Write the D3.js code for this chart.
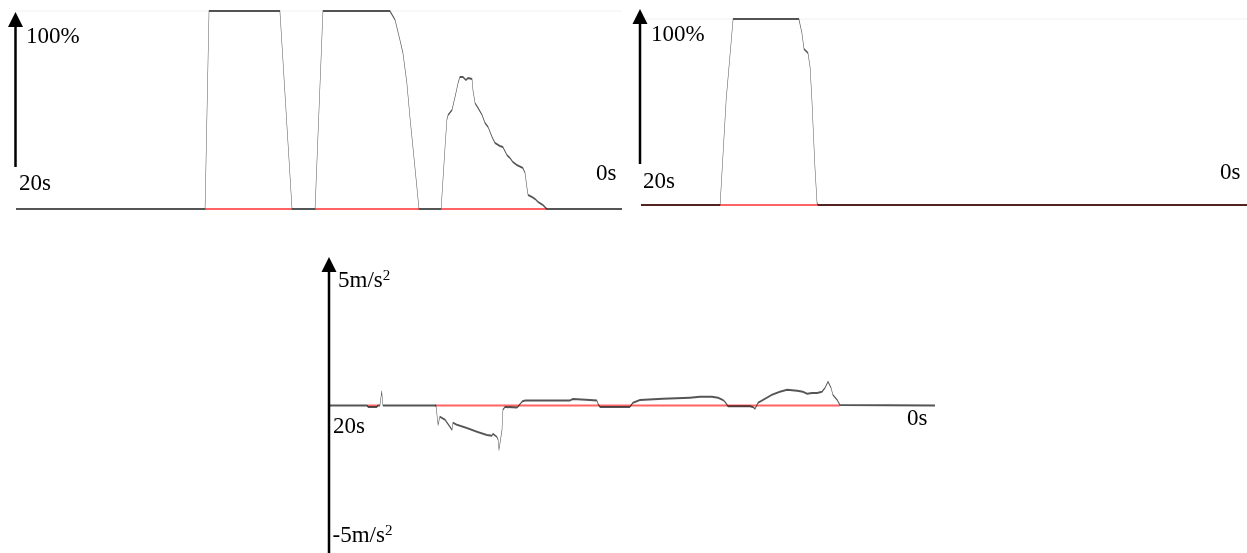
<!DOCTYPE html>
<html>
<head>
<meta charset="utf-8">
<script src="https://cdn.jsdelivr.net/npm/d3@7"></script>
<style>
  html, body { margin: 0; padding: 0; background: #fff; }
  svg { display: block; }
  text { font-family: "Liberation Serif", "Times New Roman", serif; fill: #000; }
</style>
</head>
<body>
<svg id="chart" width="1247" height="553"></svg>
<script>
// ---------- DATA ----------
// Top-left: pedal position (%) vs time (s, counting down from 20 to 0)
const time1 = [20, 13.76, 13.63, 11.29, 10.89, 10.13, 9.87, 7.66, 7.49, 7.33, 7.23, 7.10, 7.00, 6.90, 6.77, 6.70,
  5.97, 5.84, 5.78, 5.74, 5.61, 5.51, 5.41, 5.35, 5.25, 5.15, 5.08, 4.95, 4.92, 4.85, 4.75, 4.62, 4.52, 4.42,
  4.29, 4.19, 4.03, 3.93, 3.80, 3.70, 3.60, 3.47, 3.27, 3.20, 3.14, 3.10, 2.97, 2.87, 2.77, 2.61, 2.48, 0];
const value1 = [0, 0, 100, 100, 0, 0, 100, 100, 95.5, 85.4, 78.8, 63.6, 46.5, 31.3, 11.1, 0,
  0, 31.3, 45, 47.5, 50, 56.6, 63.6, 66.7, 66.7, 65.2, 66.2, 65.7, 60.1, 53.5, 51, 47.5, 43.4, 41.4,
  36.4, 33.3, 31.8, 31.3, 27.3, 25.8, 23.7, 22.2, 20.7, 18.2, 11.1, 7.1, 6.1, 5.1, 3.5, 2.0, 0, 0];
const red1 = [[13.76, 10.89], [10.13, 6.70], [5.97, 2.48]];

// Top-right: pedal position (%)
const time2 = [20, 17.39, 17.19, 16.96, 14.79, 14.69, 14.62, 14.49, 14.42, 14.36, 14.26, 14.19, 14.16, 0];
const value2 = [0, 0, 56.5, 100, 100, 92.5, 83.9, 81.7, 74.2, 56.5, 20.4, 1.1, 0, 0];
const red2 = [[20, 0]];

// Bottom: acceleration (m/s^2)
const time3 = [20, 18.75, 18.71, 18.42, 18.38, 18.32, 18.26, 18.22, 16.50, 16.47, 16.40, 16.34, 16.17, 16.01,
  15.94, 15.91, 15.78, 15.45, 15.12, 14.79, 14.62, 14.59, 14.46, 14.42, 14.39, 14.29, 14.26, 14.19, 13.80,
  13.76, 13.63, 13.53, 12.05, 11.95, 11.39, 11.16, 11.12, 11.06, 10.07, 9.97, 9.80, 9.74, 8.98, 8.09, 7.76,
  7.36, 7.16, 7.00, 6.93, 6.86, 6.83, 6.11, 6.01, 5.94, 5.84, 5.68, 5.38, 5.12, 4.88, 4.55, 4.36, 4.22,
  4.06, 3.89, 3.73, 3.63, 3.53, 3.43, 3.37, 3.23, 3.14, 0];
const value3 = [0, 0, -0.05, -0.05, 0, 0, 0.5, 0, 0, 0, -0.69, -0.40, -0.51, -0.76,
  -0.87, -0.62, -0.69, -0.80, -0.94, -1.05, -1.08, -1.01, -1.12, -1.22, -1.58, -0.87, -0.15, -0.05, -0.07,
  -0.04, 0.14, 0.18, 0.18, 0.23, 0.20, 0.18, 0.06, -0.05, -0.05, 0.10, 0.17, 0.20, 0.24, 0.28, 0.31,
  0.31, 0.28, 0.20, 0.13, 0.02, -0.03, -0.03, -0.05, -0.12, 0.10, 0.20, 0.38, 0.49, 0.56, 0.53, 0.49, 0.42,
  0.45, 0.45, 0.49, 0.63, 0.85, 0.63, 0.38, 0.20, 0.02, 0];
const red3 = [[18.75, 18.38], [16.50, 3.14]];

// Tick labels
const startLabel = "20s";
const endLabel = "0s";
const pctLabel = "100%";
const accPosLabel = "5m/s";
const accNegLabel = "-5m/s";
const supLabel = "2";

// ---------- DRAWING ----------
const svg = d3.select("#chart");
const K = 0.25; // horizontal compression used to thin the steep strokes
const FS = 23;

function drawArrow(g, x, yBottom, yTip) {
  g.append("line").attr("x1", x).attr("x2", x).attr("y1", yBottom).attr("y2", yTip + 10)
    .attr("stroke", "#000").attr("stroke-width", 2.5);
  g.append("path")
    .attr("d", `M${x},${yTip} L${x - 7.5},${yTip + 15} L${x + 7.5},${yTip + 15} Z`)
    .attr("fill", "#000");
}

function drawSeries(g, xs, ys, times, values, reds, topLine) {
  const [r0, r1] = xs.range();
  if (topLine !== undefined) {
    g.append("line").attr("x1", r0).attr("x2", r1)
      .attr("y1", ys(topLine)).attr("y2", ys(topLine))
      .attr("stroke", "#f1f1f1").attr("stroke-width", 1);
  }
  // red reference segments at zero
  g.selectAll("line.red").data(reds).join("line")
    .attr("class", "red")
    .attr("x1", d => xs(d[0])).attr("x2", d => xs(d[1]))
    .attr("y1", ys(0)).attr("y2", ys(0))
    .attr("stroke", "#ff6464").attr("stroke-width", 2);
  // gray measured line, drawn in a widened space and compressed horizontally
  const xw = xs.copy().range([r0 / K, r1 / K]);
  const pts = times.map((t, i) => [t, values[i]]);
  const line = d3.line().x(d => xw(d[0])).y(d => ys(d[1]));
  g.append("g").attr("transform", `scale(${K},1)`)
    .append("path")
    .datum(pts)
    .attr("d", line)
    .attr("fill", "none")
    .attr("stroke", "#555")
    .attr("stroke-width", 2)
    .attr("stroke-linejoin", "round")
    .style("mix-blend-mode", "multiply");
}

// Chart 1 (top-left)
{
  const g = svg.append("g");
  const xs = d3.scaleLinear().domain([20, 0]).range([16, 622]);
  const ys = d3.scaleLinear().domain([0, 100]).range([209, 11]);
  drawSeries(g, xs, ys, time1, value1, red1, 100);
  drawArrow(g, 15.5, 167, 12);
  g.append("text").attr("x", 26).attr("y", 43).attr("font-size", FS).text(pctLabel);
  g.append("text").attr("x", 19).attr("y", 190).attr("font-size", FS).text(startLabel);
  g.append("text").attr("x", 596).attr("y", 180).attr("font-size", FS).text(endLabel);
}

// Chart 2 (top-right)
{
  const g = svg.append("g");
  const xs = d3.scaleLinear().domain([20, 0]).range([641, 1247]);
  const ys = d3.scaleLinear().domain([0, 100]).range([205, 19]);
  drawSeries(g, xs, ys, time2, value2, red2, 100);
  drawArrow(g, 640, 164, 9);
  g.append("text").attr("x", 651).attr("y", 41).attr("font-size", FS).text(pctLabel);
  g.append("text").attr("x", 643).attr("y", 188).attr("font-size", FS).text(startLabel);
  g.append("text").attr("x", 1220).attr("y", 179).attr("font-size", FS).text(endLabel);
}

// Chart 3 (bottom)
{
  const g = svg.append("g");
  const xs = d3.scaleLinear().domain([20, 0]).range([329, 935]);
  const ys = d3.scaleLinear().domain([-5, 5]).range([545.5, 265.5]);
  drawSeries(g, xs, ys, time3, value3, red3);
  drawArrow(g, 329, 553, 257);
  const t1 = g.append("text").attr("x", 338).attr("y", 287).attr("font-size", FS);
  t1.append("tspan").text(accPosLabel);
  t1.append("tspan").attr("dy", -7).attr("font-size", 15).text(supLabel);
  const t2 = g.append("text").attr("x", 332.5).attr("y", 542).attr("font-size", FS);
  t2.append("tspan").text(accNegLabel);
  t2.append("tspan").attr("dy", -7).attr("font-size", 15).text(supLabel);
  g.append("text").attr("x", 333).attr("y", 433).attr("font-size", FS).text(startLabel);
  g.append("text").attr("x", 907).attr("y", 425).attr("font-size", FS).text(endLabel);
}
</script>
</body>
</html>
